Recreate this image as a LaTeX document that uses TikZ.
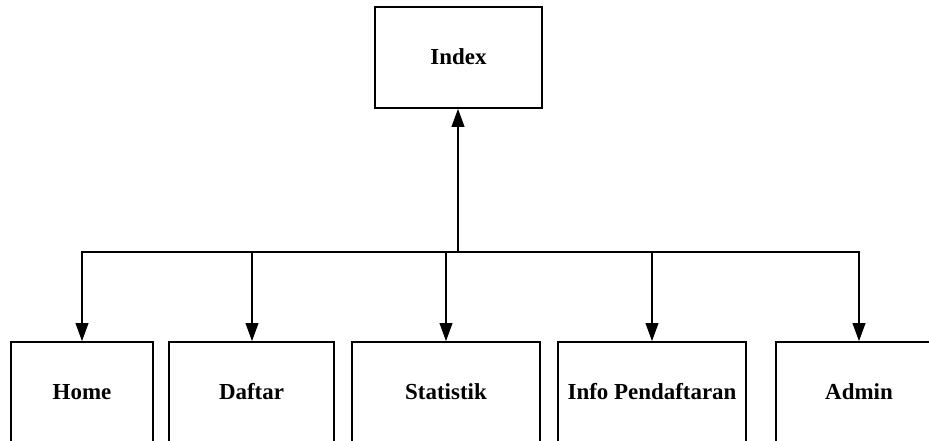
\documentclass[tikz,border=0pt]{standalone}
\usepackage{fontspec}
\setmainfont{Liberation Serif}
\usetikzlibrary{arrows.meta}
\begin{document}
\begin{tikzpicture}[x=0.75pt,y=-0.75pt,
  box/.style={draw=black, line width=1.25pt, fill=white, inner sep=0pt,
    text height=12pt, text depth=0.8pt,
    font=\fontsize{17.2}{20}\selectfont\bfseries},
  conn/.style={line width=1.25pt, draw=black},
  arr/.style={conn, -{Triangle[length=13.5pt,width=9.5pt]}}]
\useasboundingbox (0,0) rectangle (929,441);
\clip (0,0) rectangle (929,441);
\node[box, minimum width=167*0.75pt, minimum height=101*0.75pt] (index) at (458.5,57.5) {Index};
\node[box, minimum width=142*0.75pt, minimum height=101*0.75pt] (home) at (82,392.5) {Home};
\node[box, minimum width=165*0.75pt, minimum height=101*0.75pt] (daftar) at (251.5,392.5) {Daftar};
\node[box, minimum width=188*0.75pt, minimum height=101*0.75pt] (stat) at (446,392.5) {Statistik};
\node[box, minimum width=188*0.75pt, minimum height=101*0.75pt] (info) at (652,392.5) {Info Pendaftaran};
\node[box, minimum width=166*0.75pt, minimum height=101*0.75pt] (admin) at (859,392.5) {Admin};
\coordinate (bl) at (82,252);
\coordinate (br) at (859,252);
\coordinate (bi) at (458,252);
\coordinate (bd) at (252,252);
\coordinate (bs) at (446,252);
\coordinate (bn) at (652,252);
\draw[conn, line cap=rect] (bl) -- (br);
\draw[arr] (bi) -- (bi |- index.south);
\draw[arr] (bl) -- (bl |- home.north);
\draw[arr] (bd) -- (bd |- daftar.north);
\draw[arr] (bs) -- (bs |- stat.north);
\draw[arr] (bn) -- (bn |- info.north);
\draw[arr] (br) -- (br |- admin.north);
\end{tikzpicture}
\end{document}
